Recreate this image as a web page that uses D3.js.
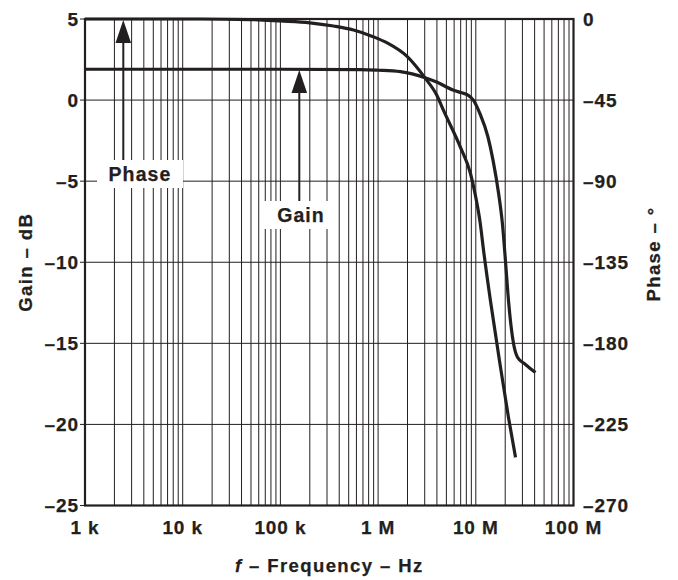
<!DOCTYPE html>
<html>
<head>
<meta charset="utf-8">
<script src="https://cdn.jsdelivr.net/npm/d3@7"></script>
<style>
  html, body { margin: 0; padding: 0; background: #fff; }
  svg { display: block; }
  text { font-family: "Liberation Sans", Arial, Helvetica, sans-serif; font-weight: bold; fill: #231f20;
         stroke: #231f20; stroke-width: 0.25px; }
</style>
</head>
<body>
<svg id="chart" width="678" height="580"></svg>
<script>
// Frequency response: gain (left axis, dB) and phase (right axis, degrees)
const gainFreq = [1e3, 1e5, 6.6e5, 1.0e6, 1.69e6, 3.03e6, 3.98e6, 5.85e6, 7.18e6, 8.33e6, 9.44e6,
                  11.0e6, 13.3e6, 15.0e6, 17.1e6, 18.7e6, 20.1e6, 21.6e6, 24.3e6, 26.7e6, 32.2e6, 40.8e6];
const gainDb   = [1.9, 1.9, 1.88, 1.84, 1.75, 1.38, 1.11, 0.62, 0.45, 0.31, 0.0,
                  -0.82, -2.26, -3.7, -5.74, -7.59, -9.88, -12.35, -15.0, -15.86, -16.3, -16.8];

const phaseFreq = [1e3, 1.5e4, 4.9e4, 1.0e5, 2.0e5, 3.5e5, 5.6e5, 8.9e5, 1.24e6, 1.99e6, 3.03e6,
                   3.98e6, 4.66e6, 6.95e6, 8.81e6, 9.9e6, 11.1e6, 12.0e6, 14.1e6, 17.9e6, 21.6e6, 25.5e6];
const phaseDeg  = [0, 0, -0.3, -1.1, -2.1, -3.9, -6.1, -9.8, -13.3, -20.9, -32.8,
                   -42.2, -50.6, -71.1, -85.6, -97.8, -113.3, -128.3, -156.1, -193.3, -221.1, -243.3];

const freqTicks  = [1e3, 1e4, 1e5, 1e6, 1e7, 1e8];
const freqLabels = ["1 k", "10 k", "100 k", "1 M", "10 M", "100 M"];
const gainTicks  = [5, 0, -5, -10, -15, -20, -25];
const phaseTicks = [0, -45, -90, -135, -180, -225, -270];

const fmtNeg = v => (v < 0 ? "\u2013" + Math.abs(v) : String(v));

const svg = d3.select("#chart");
const plotL = 85, plotR = 573.5, plotT = 19, plotB = 505.5;

const x = d3.scaleLog().domain([1e3, 1e8]).range([plotL, plotR]);
const yGain = d3.scaleLinear().domain([-25, 5]).range([plotB, plotT]);
const yPhase = d3.scaleLinear().domain([-270, 0]).range([plotB, plotT]);

const ink = "#231f20";

// vertical log grid (1..9 per decade)
const minor = [];
for (let e = 3; e < 8; e++) for (let m = 1; m < 10; m++) minor.push(m * Math.pow(10, e));
svg.append("g").selectAll("line").data(minor).join("line")
  .attr("x1", d => x(d)).attr("x2", d => x(d))
  .attr("y1", plotT).attr("y2", plotB)
  .attr("stroke", ink).attr("stroke-width", 1);

// horizontal grid
svg.append("g").selectAll("line").data(gainTicks).join("line")
  .attr("x1", plotL - 5).attr("x2", plotR)
  .attr("y1", d => yGain(d)).attr("y2", d => yGain(d))
  .attr("stroke", ink).attr("stroke-width", 1);

// label boxes with arrows
function callout(label, cx, baseY, box, arrowX, tipY) {
  svg.append("rect").attr("x", box[0]).attr("y", box[1])
    .attr("width", box[2] - box[0]).attr("height", box[3] - box[1]).attr("fill", "#fff");
  svg.append("text").attr("x", cx).attr("y", baseY).attr("text-anchor", "middle")
    .attr("font-size", 19.5).attr("letter-spacing", 1.1).text(label);
  const head = 23, half = 7.8;
  svg.append("line").attr("x1", arrowX).attr("x2", arrowX)
    .attr("y1", tipY + head - 2).attr("y2", box[1])
    .attr("stroke", ink).attr("stroke-width", 2);
  svg.append("path")
    .attr("d", `M${arrowX},${tipY} L${arrowX - half},${tipY + head} L${arrowX + half},${tipY + head} Z`)
    .attr("fill", ink);
}
callout("Phase", 140, 181, [97, 160, 183, 188], 123.3, 20);
callout("Gain", 301, 222, [263, 201, 329, 229], 299.3, 70);

// curves
const line = d3.line().curve(d3.curveMonotoneX);
svg.append("path")
  .attr("d", line(gainFreq.map((f, i) => [x(f), yGain(gainDb[i])])))
  .attr("fill", "none").attr("stroke", ink).attr("stroke-width", 3.2).attr("stroke-linejoin", "round");
svg.append("path")
  .attr("d", line(phaseFreq.map((f, i) => [x(f), yPhase(phaseDeg[i])])))
  .attr("fill", "none").attr("stroke", ink).attr("stroke-width", 3.2).attr("stroke-linejoin", "round");

// frame
svg.append("rect").attr("x", plotL).attr("y", plotT)
  .attr("width", plotR - plotL).attr("height", plotB - plotT)
  .attr("fill", "none").attr("stroke", ink).attr("stroke-width", 2.2);

// tick labels
svg.append("g").selectAll("text").data(gainTicks).join("text")
  .attr("x", 79).attr("y", d => yGain(d) + 6.8).attr("text-anchor", "end")
  .attr("font-size", 19).attr("letter-spacing", 0.9).text(fmtNeg);
svg.append("g").selectAll("text").data(phaseTicks).join("text")
  .attr("x", 583).attr("y", d => yPhase(d) + 6.8).attr("text-anchor", "start")
  .attr("font-size", 19).attr("letter-spacing", 0.9).text(fmtNeg);
svg.append("g").selectAll("text").data(freqTicks).join("text")
  .attr("x", d => x(d)).attr("y", 534).attr("text-anchor", "middle")
  .attr("font-size", 19).attr("letter-spacing", 0.9).text((d, i) => freqLabels[i]);

// axis titles
const xt = svg.append("text").attr("x", (plotL + plotR) / 2).attr("y", 572)
  .attr("text-anchor", "middle").attr("font-size", 18.5).attr("letter-spacing", 1.4);
xt.append("tspan").attr("font-style", "italic").text("f");
xt.append("tspan").text(" \u2013 Frequency \u2013 Hz");

svg.append("text").attr("transform", `translate(32,${(plotT + plotB) / 2}) rotate(-90)`)
  .attr("text-anchor", "middle").attr("font-size", 18.5).attr("letter-spacing", 1.4)
  .text("Gain \u2013 dB");
svg.append("text").attr("transform", `translate(660,254) rotate(-90)`)
  .attr("text-anchor", "middle").attr("font-size", 18.5).attr("letter-spacing", 1.4)
  .text("Phase \u2013 \u00b0");
</script>
</body>
</html>
